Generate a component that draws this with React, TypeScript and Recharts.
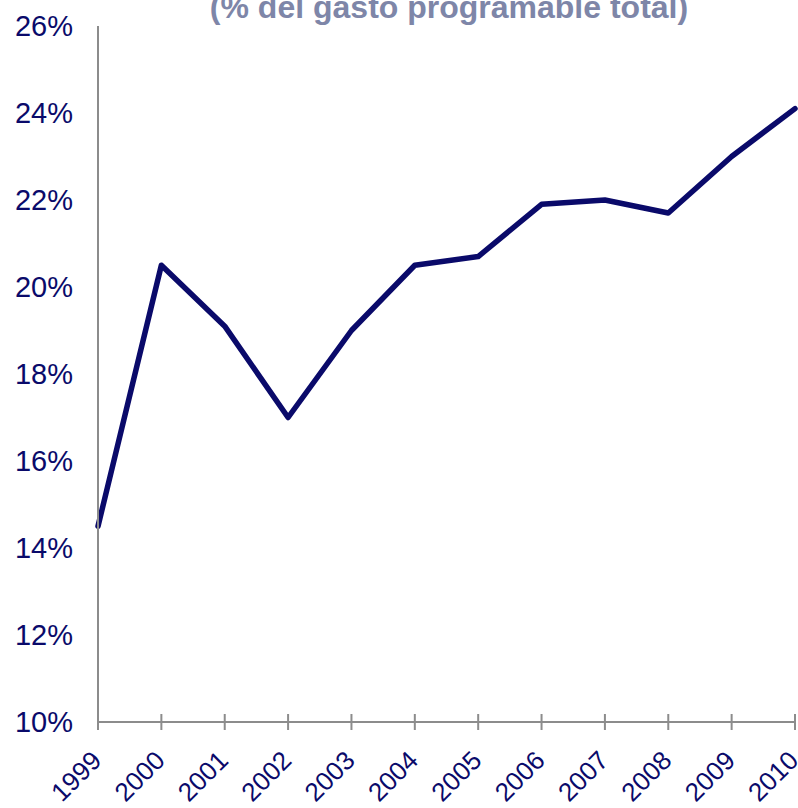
import React from "react";
import { LineChart, Line, XAxis, YAxis } from "recharts";

const years = ["1999", "2000", "2001", "2002", "2003", "2004", "2005", "2006", "2007", "2008", "2009", "2010"];
const share = [14.5, 20.5, 19.1, 17.0, 19.0, 20.5, 20.7, 21.9, 22.0, 21.7, 23.0, 24.1];
const yTicks = [10, 12, 14, 16, 18, 20, 22, 24, 26];

const NAVY = "#0A0A6A";
const AXIS_GRAY = "#8C8C8C";

const data = years.map((year, i) => ({ year, value: share[i] }));

function YearTick(props: any) {
  const { x, y, payload } = props;
  const ax = x + 5;
  const ay = y + 40;
  return (
    <g>
      <line x1={x} y1={y - 8} x2={x} y2={y + 8} stroke={AXIS_GRAY} strokeWidth={2} />
      <text
        x={ax}
        y={ay}
        transform={`rotate(-45, ${ax}, ${ay})`}
        textAnchor="end"
        fill={NAVY}
        fontSize={26}
        fontFamily="'Liberation Sans', Arial, sans-serif"
      >
        {payload.value}
      </text>
    </g>
  );
}

export default function App() {
  return (
    <div style={{ position: "absolute", left: 0, top: 0, width: 798, height: 808 }}>
      <div
        style={{
          position: "absolute",
          left: 0,
          width: 898,
          top: -9,
          textAlign: "center",
          fontFamily: "'Liberation Sans', Arial, sans-serif",
          fontWeight: "bold",
          fontSize: 32,
          lineHeight: "32px",
          color: "#7E86A8",
          whiteSpace: "nowrap",
        }}
      >
        (% del gasto programable total)
      </div>
      <LineChart
        width={798}
        height={808}
        data={data}
        margin={{ top: 26, right: 3, bottom: 0, left: 0 }}
      >
        <XAxis
          dataKey="year"
          height={86}
          interval={0}
          tickSize={0}
          tickMargin={0}
          tickLine={false}
          tick={<YearTick />}
          axisLine={{ stroke: AXIS_GRAY, strokeWidth: 2 }}
        />
        <YAxis
          width={98}
          domain={[10, 26]}
          ticks={yTicks}
          tickFormatter={(v: number) => `${v}%`}
          tickLine={false}
          tickSize={0}
          tickMargin={25}
          axisLine={{ stroke: AXIS_GRAY, strokeWidth: 2 }}
          tick={{ fill: NAVY, fontSize: 29, fontFamily: "'Liberation Sans', Arial, sans-serif" }}
        />
        <Line
          type="linear"
          dataKey="value"
          stroke={NAVY}
          strokeWidth={5.5}
          strokeLinecap="round"
          strokeLinejoin="round"
          dot={false}
          isAnimationActive={false}
        />
      </LineChart>
    </div>
  );
}
